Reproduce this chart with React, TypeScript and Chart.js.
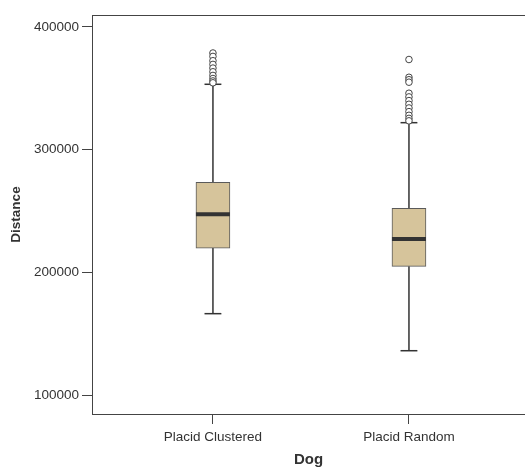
import React, { useEffect, useRef } from "react";
import { Chart, registerables } from "chart.js";

Chart.register(...registerables);

const categories = ["Placid Clustered", "Placid Random"];
const q1Values = [219800, 204900];
const medianValues = [247300, 227200];
const q3Values = [273400, 252200];
const lowerWhiskers = [166300, 136100];
const upperWhiskers = [353300, 322000];
const clusteredOutliers = [378800, 376000, 372500, 369500, 366500, 363500, 360500, 358000, 356000, 354500];
const randomOutliers = [373500, 359000, 357000, 355000, 346000, 343000, 340000, 337000, 334000, 331000, 328000, 325500, 323500];
const yTicks = [100000, 200000, 300000, 400000];

const FONT = '"Liberation Sans", Arial, Helvetica, sans-serif';
const BOX_HALF = 0.0867;
const CAP_HALF = 0.043;
const DARK = "#333333";

export default function App() {
  const ref = useRef<HTMLCanvasElement | null>(null);

  useEffect(() => {
    document.body.style.margin = "0";
    const canvas = ref.current;
    if (!canvas) return;

    const datasets: any[] = [];
    categories.forEach((_, i) => {
      datasets.push({
        type: "line",
        data: [
          { x: i - BOX_HALF, y: medianValues[i] },
          { x: i + BOX_HALF, y: medianValues[i] },
        ],
        borderColor: DARK,
        borderWidth: 4,
        pointRadius: 0,
        borderCapStyle: "butt",
        order: 0,
      });
      [
        [q3Values[i], upperWhiskers[i]],
        [q1Values[i], lowerWhiskers[i]],
      ].forEach(([a, b]) => {
        datasets.push({
          type: "line",
          data: [
            { x: i, y: a },
            { x: i, y: b },
          ],
          borderColor: DARK,
          borderWidth: 1.5,
          pointRadius: 0,
          order: 3,
        });
      });
      [upperWhiskers[i], lowerWhiskers[i]].forEach((v) => {
        datasets.push({
          type: "line",
          data: [
            { x: i - CAP_HALF, y: v },
            { x: i + CAP_HALF, y: v },
          ],
          borderColor: DARK,
          borderWidth: 1.5,
          pointRadius: 0,
          order: 3,
        });
      });
    });
    datasets.push({
      type: "bar",
      data: categories.map((_, i) => ({ x: i, y: [q1Values[i], q3Values[i]] })),
      backgroundColor: "#d6c49b",
      borderColor: "#5a5a5a",
      borderWidth: 1,
      borderSkipped: false,
      barThickness: 34,
      order: 2,
    });
    const outlierSets = [clusteredOutliers, randomOutliers];
    outlierSets.forEach((vals, i) => {
      datasets.push({
        type: "scatter",
        data: vals.map((v) => ({ x: i, y: v })),
        pointRadius: 3.3,
        pointBackgroundColor: "#ffffff",
        pointBorderColor: "#444444",
        pointBorderWidth: 1,
        order: 1,
      });
    });

    const topBorder = {
      id: "topBorder",
      afterDraw(chart: any) {
        const { ctx, chartArea } = chart;
        ctx.save();
        ctx.strokeStyle = "#444444";
        ctx.lineWidth = 1;
        ctx.beginPath();
        ctx.moveTo(chartArea.left, Math.round(chartArea.top) + 0.5);
        ctx.lineTo(chartArea.right, Math.round(chartArea.top) + 0.5);
        ctx.stroke();
        ctx.restore();
      },
    };

    const zeroPad = (s: any) => {
      s.paddingLeft = 0;
      s.paddingRight = 0;
      s.paddingTop = 0;
      s.paddingBottom = 0;
    };

    const chart = new Chart(canvas, {
      type: "scatter",
      data: { datasets },
      plugins: [topBorder],
      options: {
        responsive: false,
        animation: false,
        layout: { autoPadding: false, padding: { top: 15, right: 0, left: 0, bottom: 0 } },
        plugins: { legend: { display: false }, tooltip: { enabled: false } },
        scales: {
          x: {
            type: "linear",
            offset: false,
            min: -0.617,
            max: 1.592,
            afterBuildTicks: (s: any) => {
              s.ticks = categories.map((_, i) => ({ value: i }));
            },
            afterFit: (s: any) => {
              s.height = 58;
              zeroPad(s);
            },
            ticks: {
              callback: (v: any) => categories[v as number] ?? "",
              color: DARK,
              font: { family: FONT, size: 13.5 },
              padding: 5,
              maxRotation: 0,
              autoSkip: false,
            },
            grid: { offset: false, drawOnChartArea: false, drawTicks: true, tickLength: 10, color: "#444444" },
            border: { display: true, color: "#444444", width: 1 },
            title: {
              display: true,
              text: "Dog",
              color: DARK,
              font: { family: FONT, size: 15, weight: "bold" },
              padding: { top: 0, bottom: 3 },
            },
          },
          y: {
            type: "linear",
            min: 84511,
            max: 409782,
            afterBuildTicks: (s: any) => {
              s.ticks = yTicks.map((v) => ({ value: v }));
            },
            afterFit: (s: any) => {
              s.width = 92;
              zeroPad(s);
            },
            ticks: {
              callback: (v: any) => String(v),
              color: DARK,
              font: { family: FONT, size: 13.5 },
              padding: 3,
            },
            grid: { drawOnChartArea: false, drawTicks: true, tickLength: 10, color: "#444444" },
            border: { display: true, color: "#444444", width: 1 },
            title: {
              display: true,
              text: "Distance",
              color: DARK,
              font: { family: FONT, size: 13.5, weight: "bold" },
              padding: { top: 8, bottom: 0 },
            },
          },
        },
      },
    });
    return () => chart.destroy();
  }, []);

  return (
    <div style={{ width: 525, height: 472 }}>
      <canvas ref={ref} width={525} height={472} />
    </div>
  );
}
